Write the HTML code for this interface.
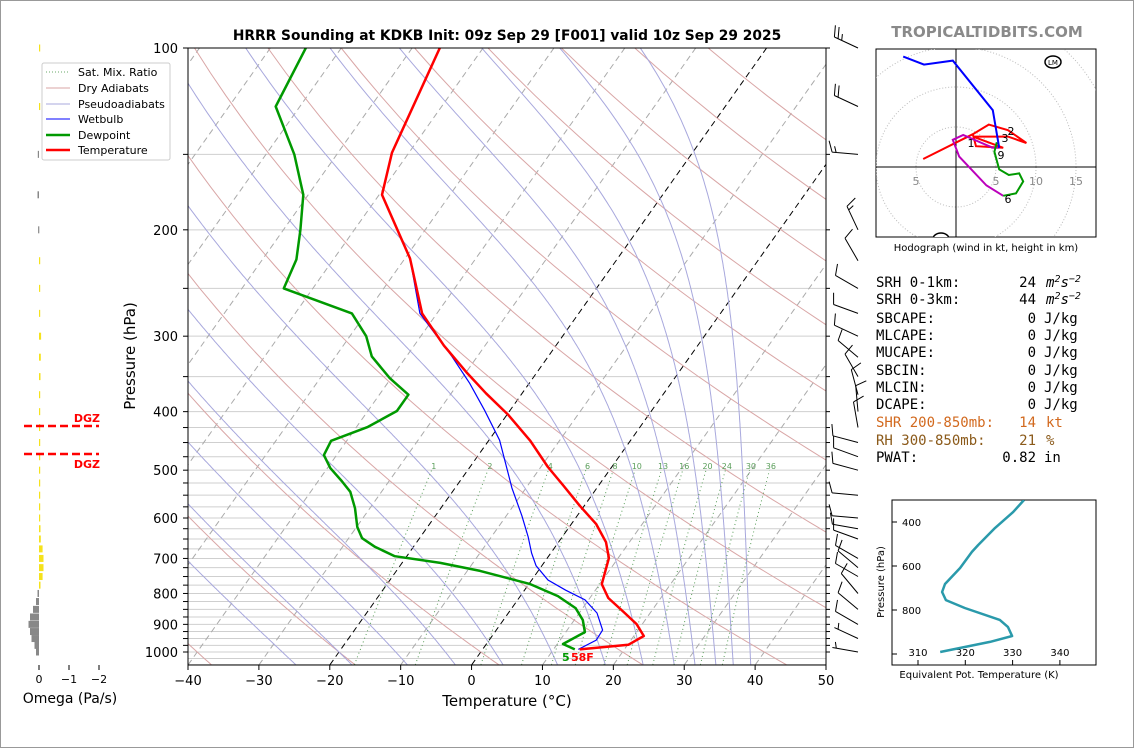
<!DOCTYPE html>
<html><head><meta charset="utf-8">
<style>
html,body{margin:0;padding:0;background:#fff;}
svg{display:block;font-family:"DejaVu Sans","Liberation Sans",sans-serif;}
</style></head>
<body>
<svg id="root" width="1134" height="748" viewBox="0 0 1134 748" xmlns="http://www.w3.org/2000/svg">
<defs><clipPath id="clipMain"><rect x="188" y="48" width="638" height="617"/></clipPath>
<clipPath id="clipHodo"><rect x="876" y="49" width="220" height="188"/></clipPath>
<clipPath id="clipTe"><rect x="892" y="500" width="204" height="165"/></clipPath></defs>
<rect x="0.5" y="0.5" width="1133" height="747" fill="#fff" stroke="#999"/>
<text x="507" y="40" text-anchor="middle" font-size="13.8" font-weight="bold">HRRR Sounding at KDKB Init: 09z Sep 29 [F001] valid 10z Sep 29 2025</text>
<text x="987" y="37" text-anchor="middle" font-size="15" font-weight="bold" fill="#8a8a8a">TROPICALTIDBITS.COM</text>
<g id="bg" clip-path="url(#clipMain)"></g>
<g id="data" clip-path="url(#clipMain)"></g>
<g id="axes"></g>
<g id="omega"></g>
<g id="barbs"></g>
<g id="hodo"></g>
<g id="te"></g>
<g id="legend">
<rect x="42" y="63" width="128" height="97" fill="#fff" stroke="#ccc" rx="2"/>
<line x1="46" y1="72" x2="70" y2="72" stroke="#6aa86a" stroke-dasharray="1,2"/>
<text x="78" y="76" font-size="11">Sat. Mix. Ratio</text>
<line x1="46" y1="88" x2="70" y2="88" stroke="#d9a6a6"/>
<text x="78" y="92" font-size="11">Dry Adiabats</text>
<line x1="46" y1="104" x2="70" y2="104" stroke="#a8a8dd"/>
<text x="78" y="108" font-size="11">Pseudoadiabats</text>
<line x1="46" y1="119" x2="70" y2="119" stroke="#00f"/>
<text x="78" y="123" font-size="11">Wetbulb</text>
<line x1="46" y1="135" x2="70" y2="135" stroke="#090" stroke-width="2.5"/>
<text x="78" y="139" font-size="11">Dewpoint</text>
<line x1="46" y1="150" x2="70" y2="150" stroke="#f00" stroke-width="2.5"/>
<text x="78" y="154" font-size="11">Temperature</text>
</g>
<g id="table" font-family="'DejaVu Sans Mono','Liberation Mono',monospace" font-size="14">
<text x="876" y="287">SRH 0-1km:</text><text x="1036" y="287" text-anchor="end">24</text><text x="1046" y="287" font-style="italic">m<tspan dy="-5" font-size="10">2</tspan><tspan dy="5">s</tspan><tspan dy="-5" font-size="10">−2</tspan></text>
<text x="876" y="304">SRH 0-3km:</text><text x="1036" y="304" text-anchor="end">44</text><text x="1046" y="304" font-style="italic">m<tspan dy="-5" font-size="10">2</tspan><tspan dy="5">s</tspan><tspan dy="-5" font-size="10">−2</tspan></text>
<text x="876" y="323">SBCAPE:</text><text x="1036" y="323" text-anchor="end">0</text><text x="1044" y="323">J/kg</text>
<text x="876" y="340">MLCAPE:</text><text x="1036" y="340" text-anchor="end">0</text><text x="1044" y="340">J/kg</text>
<text x="876" y="357">MUCAPE:</text><text x="1036" y="357" text-anchor="end">0</text><text x="1044" y="357">J/kg</text>
<text x="876" y="375">SBCIN:</text><text x="1036" y="375" text-anchor="end">0</text><text x="1044" y="375">J/kg</text>
<text x="876" y="392">MLCIN:</text><text x="1036" y="392" text-anchor="end">0</text><text x="1044" y="392">J/kg</text>
<text x="876" y="409">DCAPE:</text><text x="1036" y="409" text-anchor="end">0</text><text x="1044" y="409">J/kg</text>
<text x="876" y="427" fill="#d2691e">SHR 200-850mb:</text><text x="1036" y="427" text-anchor="end" fill="#d2691e">14</text><text x="1046" y="427" fill="#d2691e">kt</text>
<text x="876" y="445" fill="#8b5a1a">RH 300-850mb:</text><text x="1036" y="445" text-anchor="end" fill="#8b5a1a">21</text><text x="1046" y="445" fill="#8b5a1a">%</text>
<text x="876" y="462">PWAT:</text><text x="1036" y="462" text-anchor="end">0.82</text><text x="1044" y="462">in</text>
</g>
</svg>
<script>
// ---- data arrays ----
const tempP = [990,973,941,899,859,814,772,699,658,614,573,529,494,447,405,373,344,311,275,223,175,149,100];
const tempT = [13.7,20.1,21.4,19.2,16.2,12.6,10.3,8.7,6.7,3.5,-0.6,-5.1,-9.0,-14.1,-19.8,-25.1,-30.0,-35.8,-42.1,-49.3,-59.6,-62.4,-66.1];
const dewP = [990,970,927,885,846,808,772,734,712,694,670,648,621,578,543,521,496,472,447,424,399,375,352,324,300,275,250,224,200,175,150,125,100];
const dewT = [13.0,10.8,12.7,11.2,9.0,5.3,0.2,-8.2,-14.6,-21.7,-25.4,-28.1,-29.9,-32.1,-34.4,-36.7,-39.6,-41.8,-42.2,-38.4,-35.9,-35.9,-40.2,-44.9,-47.7,-52.0,-64.1,-65.2,-67.6,-70.7,-76.0,-83.4,-85.0];
const wetP = [990,956,920,862,820,790,760,720,686,645,595,535,446,398,359,324,275,223,175,149,100];
const wetT = [13.5,15.1,15.0,12.5,9.5,5.8,2.3,-0.8,-2.7,-4.8,-7.8,-12.0,-18.5,-23.6,-28.4,-33.6,-42.4,-49.3,-59.6,-62.4,-66.1];
const tempTicks = [-40,-30,-20,-10,0,10,20,30,40,50];
const presTicks = [100,200,300,400,500,600,700,800,900,1000];
const mixRatios = [1,2,4,6,8,10,13,16,20,24,30,36];
const dryThetaC = [-100,-80,-60,-40,-20,0,20,40,60,80,100,120,140,160,180,200];
const moistThetaW = [-28,-20,-12,-5,2,10,17,22.5,27,30,33,35.5,38];
const omegaP = [100,125,150,175,200,225,250,275,300,325,350,375,400,425,450,475,500,525,550,575,600,625,650,675,700,725,750,775,800,825,850,875,900,925,950,975,1000];
const omegaV = [-0.01,-0.01,0.04,0.05,0.03,-0.02,-0.03,-0.03,-0.07,-0.06,-0.05,-0.03,-0.02,-0.01,-0.01,-0.01,-0.01,-0.01,-0.02,-0.02,-0.03,-0.05,-0.06,-0.12,-0.15,-0.15,-0.12,-0.05,0.05,0.1,0.2,0.3,0.35,0.3,0.25,0.15,0.1];
const barbP = [100,125,150,200,225,250,275,300,325,350,375,400,425,450,475,500,550,600,625,650,700,725,750,800,850,900,950,1000];
const barbDir = [295,295,275,335,330,300,290,295,310,330,345,355,350,285,290,285,275,275,280,290,300,310,300,320,310,300,295,280];
const barbSpd = [25,20,15,15,10,10,10,10,10,10,10,10,10,10,10,10,10,10,10,10,10,10,10,10,10,10,5,5];
const hodoRedU = [-4.1,2.1,4.1,6.5,8.8,6.5,2.1,5.9,2.5,2.1];
const hodoRedV = [1.0,4.1,5.3,4.6,3.0,3.8,3.8,2.4,2.6,4.1];
const hodoMagU = [5.4,4.6,0.9,-0.4,0.4,3.8,5.9];
const hodoMagV = [2.4,2.4,4.0,3.4,1.3,-2.3,-3.6];
const hodoGrnU = [5.9,7.5,8.4,7.9,6.6,5.4,4.8,5.1];
const hodoGrnV = [-3.6,-3.3,-1.8,-0.8,-1.0,-0.3,1.9,3.1];
const hodoBluU = [-6.6,-4.0,-0.4,4.6,5.4];
const hodoBluV = [13.8,12.8,13.3,7.1,2.4];
const teP = [300,355,427,505,536,609,682,718,755,791,845,877,918,945,991];
const teK = [332.4,330.1,326.3,322.7,321.4,318.9,315.7,315.1,315.9,319.9,327.3,329.0,329.9,325.2,314.7];

const NS = "http://www.w3.org/2000/svg";
function mk(tag, parent, attrs){ const e=document.createElementNS(NS,tag); for(const k in attrs) e.setAttribute(k,attrs[k]); parent.appendChild(e); return e; }
function yP(p){ return 48 + 604*Math.log10(p/100); }
function xT(T,p){ return 188 + (T+40)*7.089 + 0.708*(665 - yP(p)); }
function pathFrom(ps, ts){ return ps.map((p,i)=>(i?"L":"M")+xT(ts[i],p).toFixed(1)+","+yP(p).toFixed(1)).join(""); }
const bg=document.getElementById('bg'), data=document.getElementById('data'), axes=document.getElementById('axes');

const isobars=[];
for(let p=100;p<400;p+=50) isobars.push(p);
for(let p=400;p<=1050;p+=25) isobars.push(p);
isobars.forEach(p=>{ const l=mk('line',bg,{x1:188,x2:826,y1:yP(p),y2:yP(p),stroke:'#cfcfcf','stroke-width':1});

 });
for(let T=-140;T<=50;T+=10){ const blk=(T===0||T===-20);
 const l=mk('line',bg,{x1:xT(T,1050),y1:yP(1050),x2:xT(T,100),y2:yP(100),stroke:blk?'#000':'#aaa','stroke-width':1,'stroke-dasharray':'6,4'});
 
  }
dryThetaC.forEach(th=>{ const ps=[],ts=[]; for(let p=1050;p>=100;p-=10){ ps.push(p); ts.push((th+273.15)*Math.pow(p/1000,0.286)-273.15); }
 const l=mk('path',bg,{d:pathFrom(ps,ts),fill:'none',stroke:'#d9a6a6','stroke-width':1});
 
  });
function dTdp(T,p){ const es=6.112*Math.exp(17.67*(T-273.15)/(T-29.65)); const rs=0.622*es/(p-es); const L=2.501e6;
 return (287*T+L*rs)/(1004+L*L*rs*0.622/(287*T*T))/p; }
moistThetaW.forEach(tw=>{ let T=tw+273.15; const up=[],dn=[]; let p=1000;
 while(p>100){ up.push([p,T-273.15]); const h=-2; T+=dTdp(T,p)*h; p+=h; } up.push([p,T-273.15]);
 T=tw+273.15; p=1000; while(p<1050){ const h=2; T+=dTdp(T,p)*h; p+=h; dn.push([p,T-273.15]); }
 const pts=dn.reverse().concat(up);
 const l=mk('path',bg,{d:pathFrom(pts.map(a=>a[0]),pts.map(a=>a[1])),fill:'none',stroke:'#a8a8dd','stroke-width':1});
 
  });
function tdW(w,p){ const e=w*p/(622+w); const a=Math.log(e/6.112); return 243.5*a/(17.67-a); }
mixRatios.forEach(w=>{ const ps=[],ts=[]; for(let p=1050;p>=500;p-=10){ ps.push(p); ts.push(tdW(w,p)); }
 const l=mk('path',bg,{d:pathFrom(ps,ts),fill:'none',stroke:'#5a9e5a','stroke-width':1,'stroke-dasharray':'1,3'});
 
 
 const t=mk('text',bg,{x:xT(tdW(w,490),490),y:469,'font-size':8,fill:'#5a9e5a','text-anchor':'middle'}); t.textContent=w;
 
  });
const wb=mk('path',data,{d:pathFrom(wetP,wetT),fill:'none',stroke:'#00f','stroke-width':1.2});


const dp=mk('path',data,{d:pathFrom(dewP,dewT),fill:'none',stroke:'#090','stroke-width':2.5,'stroke-linejoin':'round'});


const tp=mk('path',data,{d:pathFrom(tempP,tempT),fill:'none',stroke:'#f00','stroke-width':2.5,'stroke-linejoin':'round'});


const sd=mk('text',data,{x:562,y:661,'font-size':11,'font-weight':'bold',fill:'#090'}); sd.textContent='5';


const st=mk('text',data,{x:571,y:661,'font-size':11,'font-weight':'bold',fill:'#f00'}); st.textContent='58F';



const fr=mk('rect',axes,{x:188,y:48,width:638,height:617,fill:'none',stroke:'#000','stroke-width':1});


tempTicks.forEach(T=>{ const x=188+(T+40)*7.089; mk('line',axes,{x1:x,x2:x,y1:665,y2:670,stroke:'#000'});
 const t=mk('text',axes,{x:x,y:685,'font-size':13,'text-anchor':'middle'}); t.textContent=(T<0?'−':'')+Math.abs(T);
 
  });
isobars.filter(p=>p<=1000).forEach(p=>{ mk('line',axes,{x1:183,x2:188,y1:yP(p),y2:yP(p),stroke:'#000'}); mk('line',axes,{x1:826,x2:830,y1:yP(p),y2:yP(p),stroke:'#000'}); });
presTicks.forEach(p=>{ const t=mk('text',axes,{x:178,y:yP(p)+5,'font-size':13,'text-anchor':'end'}); t.textContent=p;
 
  });
const xl=mk('text',axes,{x:507,y:706,'font-size':15,'text-anchor':'middle'}); xl.textContent='Temperature (°C)';


const yl=mk('text',axes,{x:0,y:0,'font-size':15,'text-anchor':'middle',transform:'translate(135,356) rotate(-90)'}); yl.textContent='Pressure (hPa)';



const om=document.getElementById('omega');
omegaP.forEach((p,i)=>{ const v=omegaV[i]; const x0=39, x1=39-v*30; const y=yP(p);
 const r=mk('rect',om,{x:Math.min(x0,x1),y:y-3.5,width:Math.max(Math.abs(x1-x0),1.2),height:7,fill:v<0?'#f5e21c':'#888'});
 
  });
[[0,'0'],[-1,'−1'],[-2,'−2']].forEach(a=>{ const x=39-a[0]*30; mk('line',om,{x1:x,x2:x,y1:665,y2:670,stroke:'#000'});
 const t=mk('text',om,{x:x,y:683,'font-size':11,'text-anchor':'middle'}); t.textContent=a[1];
 
  });
const ol=mk('text',om,{x:70,y:703,'font-size':14,'text-anchor':'middle'}); ol.textContent='Omega (Pa/s)';


[[426,422],[454,468]].forEach(a=>{ const l=mk('line',om,{x1:24,x2:99,y1:a[0],y2:a[0],stroke:'#f00','stroke-width':2.5,'stroke-dasharray':'8,4'});
 
 
 const t=mk('text',om,{x:100,y:a[1],'font-size':11,'font-weight':'bold',fill:'#f00','text-anchor':'end'}); t.textContent='DGZ';
 
  });

const bb=document.getElementById('barbs');
barbP.forEach((p,i)=>{ const bx=858, by=yP(p), d=barbDir[i]*Math.PI/180, L=26;
 const dx=Math.sin(d), dy=-Math.cos(d); const ex=bx+L*dx, ey=by+L*dy;
 let s='M'+bx+','+by.toFixed(1)+'L'+ex.toFixed(1)+','+ey.toFixed(1);
 const px=-dy, py=dx; let spd=barbSpd[i], pos=0;
 while(spd>=10){ const sx=ex-dx*pos, sy=ey-dy*pos; s+='M'+sx.toFixed(1)+','+sy.toFixed(1)+'l'+((px*11+dx*4)).toFixed(1)+','+((py*11+dy*4)).toFixed(1); spd-=10; pos+=4; }
 if(spd>=5){ const sx=ex-dx*(pos||4), sy=ey-dy*(pos||4); s+='M'+sx.toFixed(1)+','+sy.toFixed(1)+'l'+((px*6+dx*2)).toFixed(1)+','+((py*6+dy*2)).toFixed(1); }
 const b=mk('path',bb,{d:s,fill:'none',stroke:'#000','stroke-width':1});
 
  });

const hd=document.getElementById('hodo');
const hb=mk('rect',hd,{x:876,y:49,width:220,height:188,fill:'#fff',stroke:'#000'});


const hg=mk('g',hd,{'clip-path':'url(#clipHodo)'});
function hx(u){return 956+u*8;} function hy(v){return 167-v*8;}
[5,10,15,20,25].forEach(r=>{ mk('circle',hg,{cx:956,cy:167,r:r*8,fill:'none',stroke:'#bbb','stroke-dasharray':'1,2'}); });
mk('line',hg,{x1:876,x2:1096,y1:167,y2:167,stroke:'#000'}); mk('line',hg,{x1:956,x2:956,y1:49,y2:237,stroke:'#000'});
[[5,'5',-40],[5,'5',40],[10,'10',80],[15,'15',120]].forEach(a=>{ const t=mk('text',hg,{x:956+a[2],y:185,'font-size':11,fill:'#888','text-anchor':'middle'}); t.textContent=a[1];
 
  });
function hpath(us,vs,col,name){ const p=mk('path',hg,{d:us.map((u,i)=>(i?'L':'M')+hx(u).toFixed(1)+','+hy(vs[i]).toFixed(1)).join(''),fill:'none',stroke:col,'stroke-width':2});
 
  }
hpath(hodoRedU,hodoRedV,'#f00','hodograph-0-3km');
hpath(hodoMagU,hodoMagV,'#b0b','hodograph-3-6km');
hpath(hodoGrnU,hodoGrnV,'#090','hodograph-6-9km');
hpath(hodoBluU,hodoBluV,'#00f','hodograph-9km-plus');
[['1',971,147],['2',1011,135],['3',1005,142],['9',1001,159],['6',1008,203]].forEach(a=>{ const t=mk('text',hg,{x:a[1],y:a[2],'font-size':11,'text-anchor':'middle'}); t.textContent=a[0];
 
  });
[['LM',1053,62],['RM',941,239]].forEach(a=>{ mk('ellipse',hg,{cx:a[1],cy:a[2],rx:8,ry:6,fill:'#fff',stroke:'#000','stroke-width':1.5});
 const t=mk('text',hg,{x:a[1],y:a[2]+3,'font-size':7,'text-anchor':'middle'}); t.textContent=a[0];
 
  });
const hc=mk('text',hd,{x:986,y:251,'font-size':10,'text-anchor':'middle'}); hc.textContent='Hodograph (wind in kt, height in km)';



const te=document.getElementById('te');
const tf=mk('rect',te,{x:892,y:500,width:204,height:165,fill:'#fff',stroke:'#000'});


function tx(k){return 918+(k-310)*4.73;} function ty(p){return 522+(p-400)*0.22;}
[400,600,800,1000].forEach(p=>{ mk('line',te,{x1:892,x2:897,y1:ty(p),y2:ty(p),stroke:'#000'});
 if(p<1000){ const t=mk('text',te,{x:902,y:ty(p)+4,'font-size':10}); t.textContent=p;
 
  } });
[310,320,330,340].forEach(k=>{ mk('line',te,{x1:tx(k),x2:tx(k),y1:665,y2:660,stroke:'#000'});
 const t=mk('text',te,{x:tx(k),y:656,'font-size':10,'text-anchor':'middle'}); t.textContent=k;
 
  });
const tl=mk('path',mk('g',te,{'clip-path':'url(#clipTe)'}),{d:teP.map((p,i)=>(i?'L':'M')+tx(teK[i]).toFixed(1)+','+ty(p).toFixed(1)).join(''),fill:'none',stroke:'#2a9aab','stroke-width':2.5,'stroke-linejoin':'round'});


const tyl=mk('text',te,{x:0,y:0,'font-size':10,'text-anchor':'middle',transform:'translate(884,582) rotate(-90)'}); tyl.textContent='Pressure (hPa)';


const txl=mk('text',te,{x:979,y:678,'font-size':10,'text-anchor':'middle'}); txl.textContent='Equivalent Pot. Temperature (K)';


</script>
</body></html>
